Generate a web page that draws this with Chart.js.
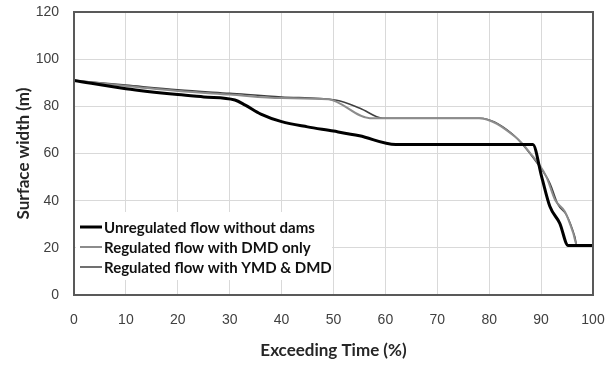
<!DOCTYPE html>
<html>
<head>
<meta charset="utf-8">
<script src="https://cdn.jsdelivr.net/npm/chart.js@4.4.1/dist/chart.umd.min.js"></script>
<style>
  html, body { margin: 0; padding: 0; background: #fff; }
  #wrap { width: 615px; height: 365px; }
</style>
</head>
<body>
<div id="wrap"><canvas id="flowChart"></canvas></div>
<script>
// Surface width vs. exceeding time for the three flow scenarios
const seriesLabels = [
  "Unregulated flow without dams",
  "Regulated flow with DMD only",
  "Regulated flow with YMD & DMD",
];

const unregX = [0, 10, 20, 25, 31, 33, 36, 40, 45, 50, 55, 62, 88.4, 90.1, 91.7, 93.6, 95.2, 100];
const unregY = [91, 87.5, 85, 84, 82.7, 80.5, 76.7, 73.5, 71.3, 69.5, 67.5, 63.8, 63.8, 50.2, 37.5, 30.4, 21, 21];

const dmdX = [0, 10, 20, 30, 40, 49, 57, 78, 85, 87.9, 91, 92.7, 94.6, 96.2, 96.9, 100];
const dmdY = [91, 88.6, 86.5, 85, 83.5, 83, 75, 75, 67.1, 60.2, 50.2, 40.3, 35.3, 26.2, 21, 21];

const ymdX = [0, 10, 20, 30, 40, 50.6, 55.1, 59.5, 78.2, 84.3, 89.5, 91.7, 93.3, 94.9, 96.5, 96.9, 100];
const ymdY = [91, 89, 87, 85.5, 84, 82.6, 79.2, 75, 75, 68.6, 55.1, 47.4, 38.2, 33.9, 24.7, 21, 21];

const xTicks = [0, 10, 20, 30, 40, 50, 60, 70, 80, 90, 100];
const yTicks = [0, 20, 40, 60, 80, 100, 120];

const toPoints = (xs, ys) => xs.map((x, i) => ({ x, y: ys[i] }));

const lineColors = ["#000000", "#8c8c8c", "#404040"];
const lineWidths = [3, 2, 1.5];

// frame around the plot area plus an in-plot legend on a white patch
const framePlugin = {
  id: "frame",
  afterDraw(chart) {
    const { ctx, chartArea: a } = chart;
    ctx.save();
    ctx.strokeStyle = "#595959";
    ctx.lineWidth = 2;
    ctx.strokeRect(a.left, a.top, a.right - a.left, a.bottom - a.top);

    ctx.fillStyle = "#fff";
    ctx.fillRect(a.left + 2, 212, 256, 68);
    ctx.font = "bold 15px Lato, 'Liberation Sans', sans-serif";
    ctx.textBaseline = "middle";
    ctx.textAlign = "left";
    chart.data.datasets.forEach((ds, i) => {
      const y = 227 + i * 20;
      ctx.strokeStyle = ds.borderColor;
      ctx.lineWidth = ds.borderWidth;
      ctx.beginPath();
      ctx.moveTo(80, y);
      ctx.lineTo(102, y);
      ctx.stroke();
      ctx.fillStyle = "#111";
      ctx.fillText(ds.label, 104, y + 1);
    });
    ctx.restore();
  },
};

const titleFont = { family: "Lato, 'Liberation Sans', sans-serif", size: 17, weight: "bold" };

const ctx = document.getElementById("flowChart").getContext("2d");
new Chart(ctx, {
  type: "line",
  data: {
    datasets: [
      { data: toPoints(unregX, unregY) },
      { data: toPoints(dmdX, dmdY) },
      { data: toPoints(ymdX, ymdY) },
    ].map((ds, i) => ({
      ...ds,
      label: seriesLabels[i],
      borderColor: lineColors[i],
      borderWidth: lineWidths[i],
      pointRadius: 0,
      fill: false,
      cubicInterpolationMode: "monotone",
    })),
  },
  options: {
    responsive: true,
    maintainAspectRatio: false,
    animation: false,
    layout: { padding: { top: 12, right: 22, left: 0, bottom: 0 } },
    plugins: { legend: { display: false }, tooltip: { enabled: false } },
    scales: {
      x: {
        type: "linear",
        min: 0,
        max: 100,
        afterBuildTicks: (axis) => { axis.ticks = xTicks.map((v) => ({ value: v })); },
        afterFit: (axis) => {
          axis.height = 70;
          axis.paddingLeft = 0;
          axis.paddingRight = 0;
        },
        grid: { color: "#d9d9d9", drawTicks: false },
        border: { display: false },
        ticks: {
          padding: 17,
          color: "#404040",
          font: { family: "'Liberation Sans', sans-serif", size: 14 },
        },
        title: {
          display: true,
          text: "Exceeding Time (%)",
          color: "#262626",
          font: titleFont,
          padding: { top: 4 },
        },
      },
      y: {
        min: 0,
        max: 120,
        afterBuildTicks: (axis) => { axis.ticks = yTicks.map((v) => ({ value: v })); },
        afterFit: (axis) => {
          axis.width = 74;
          axis.paddingTop = 0;
          axis.paddingBottom = 0;
        },
        grid: { color: "#d9d9d9", drawTicks: false },
        border: { display: false },
        ticks: {
          padding: 15,
          color: "#404040",
          font: { family: "'Liberation Sans', sans-serif", size: 14 },
        },
        title: {
          display: true,
          text: "Surface width (m)",
          color: "#262626",
          font: titleFont,
          padding: { top: 13, bottom: 0 },
        },
      },
    },
  },
  plugins: [framePlugin],
});
</script>
</body>
</html>
